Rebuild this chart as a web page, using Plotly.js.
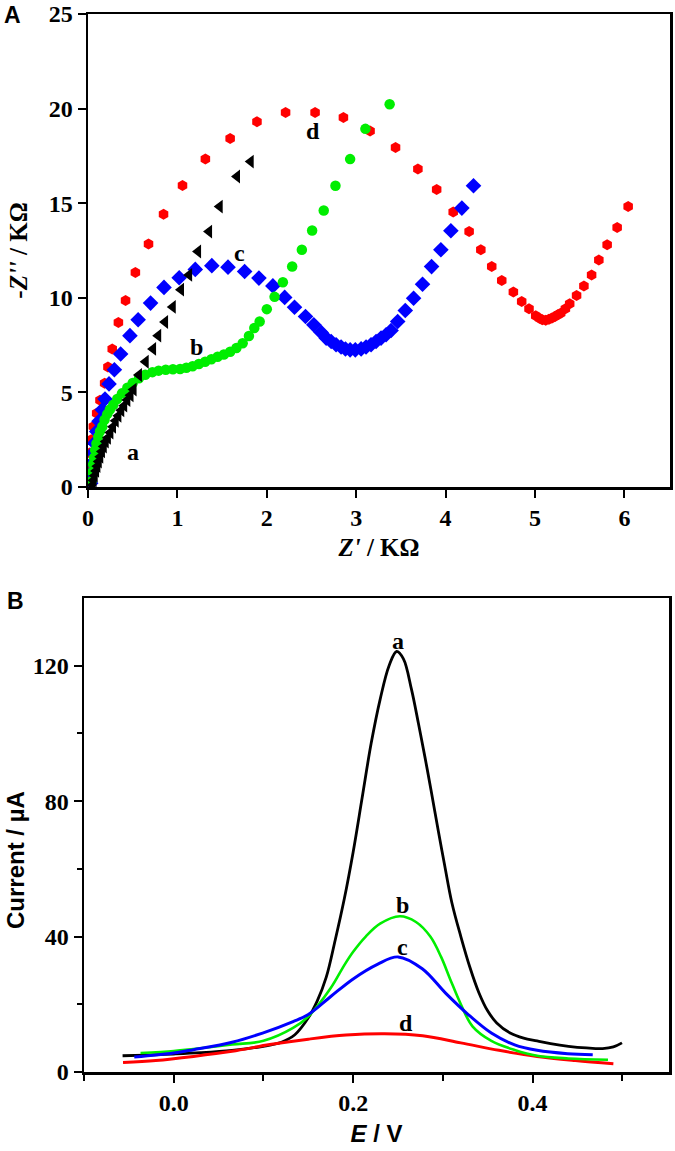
<!DOCTYPE html>
<html><head><meta charset="utf-8">
<script src="https://cdn.plot.ly/plotly-3.0.1.min.js"></script>
<style>html,body{margin:0;padding:0;background:#fff}#chart{width:675px;height:1151px}</style>
</head><body><div id="chart"></div>
<script>
// ---------- Panel A: Nyquist plots (Z' / kOhm, -Z'' / kOhm) ----------
const aZre=[0.05,0.062,0.075,0.09,0.105,0.12,0.137,0.156,0.176,0.198,0.222,0.25,0.28,0.31,0.34,0.372,0.405,0.44,0.475,0.51,0.57,0.645,0.728,0.785,0.862,0.948,1.04,1.131,1.231,1.354,1.473,1.667,1.82];
const aZim=[0.1,0.35,0.6,0.85,1.1,1.35,1.6,1.88,2.14,2.4,2.6,2.88,3.18,3.5,3.76,4.05,4.3,4.6,4.85,5.15,5.92,6.62,7.3,8.0,8.72,9.52,10.43,11.21,12.45,13.5,14.82,16.41,17.2];

const bZre=[0.04,0.05,0.058,0.067,0.08,0.095,0.115,0.135,0.16,0.185,0.215,0.245,0.283,0.327,0.38,0.44,0.5,0.57,0.64,0.72,0.79,0.87,0.95,1.03,1.1,1.17,1.24,1.31,1.38,1.45,1.52,1.59,1.66,1.73,1.8,1.86,1.92,2.0,2.087,2.18,2.284,2.392,2.507,2.637,2.768,2.932,3.103,3.374];
const bZim=[0.3,0.8,1.2,1.55,1.95,2.3,2.65,2.95,3.2,3.55,3.85,4.1,4.35,4.65,4.95,5.25,5.5,5.75,5.93,6.07,6.15,6.2,6.22,6.24,6.3,6.38,6.5,6.62,6.75,6.88,7.0,7.15,7.35,7.6,7.98,8.4,8.75,9.4,10.05,10.82,11.65,12.54,13.56,14.61,15.92,17.33,18.93,20.23];

const cZre=[0.03,0.037,0.048,0.06,0.074,0.097,0.123,0.16,0.19,0.235,0.295,0.365,0.469,0.561,0.70,0.85,1.02,1.2,1.385,1.566,1.752,1.912,2.068,2.2,2.31,2.433,2.526,2.608,2.664,2.72,2.775,2.831,2.88,2.932,2.99,3.055,3.11,3.166,3.222,3.278,3.334,3.39,3.464,3.549,3.642,3.742,3.843,3.947,4.059,4.182,4.312];
const cZim=[0.2,0.74,1.27,1.8,2.32,2.94,3.47,4.08,4.65,5.45,6.2,7.03,8.0,8.84,9.72,10.55,11.06,11.5,11.7,11.62,11.39,11.04,10.63,10.02,9.5,9.01,8.57,8.17,7.87,7.69,7.52,7.4,7.29,7.25,7.25,7.3,7.4,7.52,7.69,7.87,8.05,8.27,8.75,9.33,9.98,10.72,11.65,12.54,13.54,14.74,15.92];

const dZre=[0.01,0.015,0.02,0.037,0.06,0.097,0.134,0.186,0.223,0.271,0.34,0.42,0.53,0.677,0.845,1.057,1.313,1.59,1.89,2.21,2.54,2.857,3.155,3.44,3.69,3.90,4.085,4.263,4.394,4.516,4.628,4.758,4.851,4.933,5.008,5.05,5.082,5.12,5.156,5.19,5.223,5.255,5.287,5.34,5.388,5.465,5.547,5.633,5.714,5.807,5.919,6.042];
const dZim=[0.6,1.2,1.8,2.5,3.2,3.9,4.58,5.49,6.34,7.3,8.7,9.86,11.34,12.84,14.42,15.93,17.33,18.42,19.31,19.79,19.79,19.53,18.82,17.94,16.81,15.72,14.53,13.5,12.54,11.65,10.91,10.3,9.8,9.42,9.05,8.92,8.84,8.82,8.87,8.93,9.01,9.1,9.19,9.42,9.68,10.12,10.63,11.21,12.0,12.8,13.71,14.82];

// ---------- Panel B: DPV curves (E / V, Current / uA) ----------
const eA=[-0.057,-0.03,0.0,0.03,0.065,0.1,0.12,0.135,0.15,0.16,0.17,0.18,0.19,0.2,0.21,0.22,0.23,0.24,0.2484,0.256,0.265,0.2727,0.28,0.2867,0.295,0.302,0.31,0.32,0.33,0.34,0.35,0.36,0.375,0.39,0.405,0.42,0.44,0.46,0.478,0.49,0.4996];
const iA=[4.8,5.0,5.3,5.7,6.4,7.6,8.8,11.0,16.0,21.0,28.0,39.0,51.0,65.0,81.0,97.0,110.0,120.0,124.2,122.0,113.0,103.0,93.0,83.4,71.0,61.0,50.0,40.0,31.0,23.5,18.0,14.5,11.5,10.0,9.2,8.4,7.6,7.1,6.9,7.4,8.6];

const eB=[-0.037,0.0,0.022,0.065,0.1,0.133,0.15,0.175,0.19,0.2,0.214,0.23,0.252,0.27,0.286,0.298,0.308,0.32,0.333,0.354,0.38,0.405,0.44,0.484];
const iB=[5.6,6.2,6.8,8.1,9.2,13.0,16.4,24.8,31.5,35.5,40.0,43.8,46.0,44.3,40.0,34.0,27.5,20.0,13.5,9.2,6.5,4.8,4.0,3.6];

const eC=[-0.044,0.0,0.022,0.065,0.099,0.133,0.15,0.175,0.2,0.227,0.25,0.277,0.303,0.3285,0.354,0.38,0.405,0.439,0.467];
const iC=[4.4,5.6,6.6,8.8,11.5,14.9,17.0,22.3,27.5,31.8,34.0,30.5,23.3,16.9,11.5,8.0,6.4,5.4,5.1];

const eD=[-0.0565,-0.02,0.022,0.065,0.107,0.15,0.192,0.235,0.2774,0.32,0.3625,0.405,0.4475,0.49];
const iD=[2.8,3.4,4.6,6.1,8.1,9.7,10.9,11.3,10.7,8.6,6.4,4.6,3.4,2.45];

// tick values / labels
const xTicksA=[0,1,2,3,4,5,6], xTickTextA=['0','1','2','3','4','5','6'];
const yTicksA=[0,5,10,15,20,25], yTickTextA=['0','5','10','15','20','25'];
const xTicksB=[0,0.2,0.4], xTickTextB=['0.0','0.2','0.4'], xMinorB=[-0.1,0.1,0.3,0.5];
const yTicksB=[0,40,80,120], yTickTextB=['0','40','80','120'], yMinorB=[20,60,100];

// curve labels
const labelText=['a','b','c','d'];
const labelAx=[0.5,1.21,1.69,2.52];
const labelAy=[1.85,7.4,12.35,18.8];
const labelBx=[0.25,0.2545,0.255,0.259];
const labelBy=[127.3,49.3,36.9,14.6];

const colA='#000000', colB='#00ee00', colC='#0000ff', colD='#ff0000';

const traces=[
 {x:dZre,y:dZim,mode:'markers',marker:{symbol:'hexagon',size:11,color:colD},xaxis:'x',yaxis:'y'},
 {x:cZre,y:cZim,mode:'markers',marker:{symbol:'diamond',size:12,color:colC},xaxis:'x',yaxis:'y'},
 {x:bZre,y:bZim,mode:'markers',marker:{symbol:'circle',size:10.5,color:colB},xaxis:'x',yaxis:'y'},
 {x:aZre,y:aZim,mode:'markers',marker:{symbol:'triangle-left',size:12,color:colA},xaxis:'x',yaxis:'y'},
 {x:eA,y:iA,mode:'lines',line:{color:colA,width:2.8,shape:'spline',smoothing:1},xaxis:'x2',yaxis:'y2'},
 {x:eD,y:iD,mode:'lines',line:{color:colD,width:3,shape:'spline',smoothing:1},xaxis:'x2',yaxis:'y2'},
 {x:eB,y:iB,mode:'lines',line:{color:colB,width:2.6,shape:'spline',smoothing:1},xaxis:'x2',yaxis:'y2'},
 {x:eC,y:iC,mode:'lines',line:{color:colC,width:3,shape:'spline',smoothing:1},xaxis:'x2',yaxis:'y2'}
];

const serif='Liberation Serif, Times New Roman, serif';
const sans='Liberation Sans, Arial, sans-serif';
const tf={family:serif,size:24,color:'#000'};
const bold=a=>a.map(s=>'<b>'+s+'</b>');
const axBase={showgrid:false,zeroline:false,showline:true,linecolor:'#000',linewidth:2.5,mirror:true,
  ticks:'outside',ticklen:8,tickwidth:2,tickcolor:'#000',tickfont:tf,tickmode:'array'};

const annotations=[];
labelText.forEach((t,i)=>{
  annotations.push({x:labelAx[i],y:labelAy[i],xref:'x',yref:'y',text:'<b>'+t+'</b>',showarrow:false,font:{family:serif,size:24,color:'#000'}});
  annotations.push({x:labelBx[i],y:labelBy[i],xref:'x2',yref:'y2',text:'<b>'+t+'</b>',showarrow:false,font:{family:serif,size:24,color:'#000'}});
});
annotations.push({x:12,y:15,xref:'paper',yref:'paper',text:'<b>A</b>',showarrow:false,font:{family:sans,size:23,color:'#000'}});
annotations.push({x:15,y:601,xref:'paper',yref:'paper',text:'<b>B</b>',showarrow:false,font:{family:sans,size:23,color:'#000'}});
annotations.push({x:15,y:860,xref:'paper',yref:'paper',text:'<b>Current / µA</b>',textangle:-90,showarrow:false,font:{family:sans,size:24,color:'#000'}});

// convert pixel-placed paper annotations (panel letters / B y-title)
const W=675,H=1151,ML=84,MR=5,MT=14,MB=79;
annotations.forEach(a=>{
  if(a.xref==='paper'){
    a.x=(a.x-ML)/(W-ML-MR);
    a.y=1-(a.y-MT)/(H-MT-MB);
    a.xanchor='center';a.yanchor='middle';
  }
});

const layout={
  width:W,height:H,margin:{l:ML,r:MR,t:MT,b:MB},
  paper_bgcolor:'#fff',plot_bgcolor:'#fff',showlegend:false,
  xaxis:Object.assign({},axBase,{domain:[(88-ML)/(W-ML-MR),1],range:[0,6.51],tickvals:xTicksA,ticktext:bold(xTickTextA),anchor:'y',
    title:{text:"<b><i>Z'</i> / KΩ</b>",font:{family:serif,size:25,color:'#000'},standoff:8}}),
  yaxis:Object.assign({},axBase,{domain:[(1072-487)/(H-MT-MB),1],range:[0,25],tickvals:yTicksA,ticktext:bold(yTickTextA),anchor:'x',
    title:{text:"<b>-<i>Z''</i> / KΩ</b>",font:{family:serif,size:25,color:'#000'},standoff:14}}),
  xaxis2:Object.assign({},axBase,{domain:[0,(669-ML)/(W-ML-MR)],range:[-0.1,0.552],tickvals:xTicksB,ticktext:bold(xTickTextB),anchor:'y2',
    minor:{tickmode:'array',tickvals:xMinorB,ticks:'outside',ticklen:6,tickwidth:2,tickcolor:'#000',showgrid:false},
    title:{text:'<b><i>E</i> / V</b>',font:{family:sans,size:24,color:'#000'},standoff:10}}),
  yaxis2:Object.assign({},axBase,{domain:[0,(1072-598)/(H-MT-MB)],range:[0,140],tickvals:yTicksB,ticktext:bold(yTickTextB),anchor:'x2',
    minor:{tickmode:'array',tickvals:yMinorB,ticks:'outside',ticklen:5,tickwidth:2,tickcolor:'#000',showgrid:false}}),
  annotations:annotations
};

Plotly.newPlot('chart',traces,layout,{displayModeBar:false,staticPlot:true});
</script></body></html>
